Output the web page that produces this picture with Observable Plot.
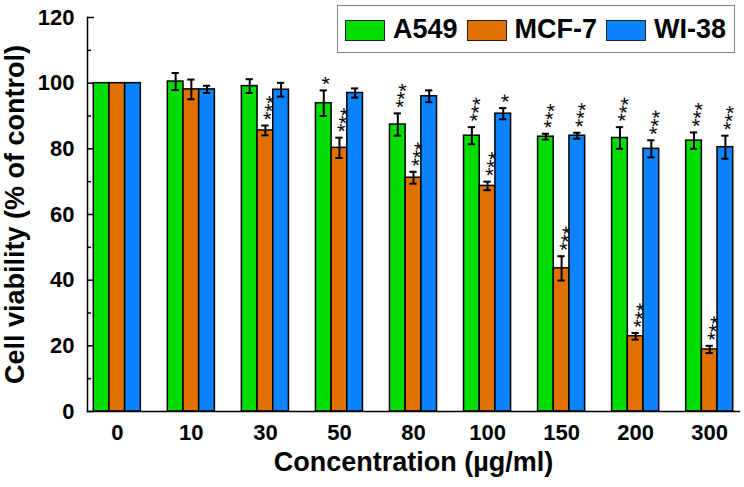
<!DOCTYPE html>
<html>
<head>
<meta charset="utf-8">
<script src="https://cdn.jsdelivr.net/npm/d3@7"></script>
<script src="https://cdn.jsdelivr.net/npm/@observablehq/plot@0.6"></script>
<style>
  body { margin: 0; background: white; font-family: "Liberation Sans", Arial, sans-serif; }
  #wrap { position: relative; width: 744px; height: 487px; }
  #legend { position: absolute; left: 337px; top: 5px; width: 398px; height: 48px; box-sizing: border-box;
    border: 1.5px solid #858585; display: flex; align-items: center; padding-left: 7px; background: white;
    white-space: nowrap; overflow: visible; }
  .sw { flex: 0 0 auto; width: 40px; height: 21px; box-sizing: border-box; border: 1.5px solid #222; margin-right: 8px; margin-top: 3px; }
  .lb { flex: 0 0 auto; font-size: 27px; font-weight: bold; margin-right: 9px; color: #000; line-height: 1; white-space: nowrap; }
</style>
</head>
<body>
<div id="wrap"></div>
<script>
const groups = ["0", "10", "30", "50", "80", "100", "150", "200", "300"];
const series = ["A549", "MCF-7", "WI-38"];
const colors = ["#00dd00", "#e07000", "#0a84ff"];

const a549    = [100, 100.5, 99.1, 93.9, 87.4, 84.0, 83.7, 83.3, 82.5];
const a549Err = [0, 2.6, 2.1, 3.9, 3.4, 2.6, 0.9, 3.3, 2.5];
const mcf7    = [100, 98.1, 85.6, 80.3, 71.2, 68.7, 43.6, 22.9, 18.9];
const mcf7Err = [0, 3.0, 1.5, 3.1, 1.8, 1.3, 3.7, 1.0, 1.1];
const wi38    = [100, 98.1, 98.0, 97.0, 96.0, 90.7, 84.0, 80.0, 80.5];
const wi38Err = [0, 1.1, 2.1, 1.4, 1.8, 1.7, 0.9, 2.6, 3.5];

const a549Sig = ["", "", "", "*", "***", "***", "***", "***", "***"];
const mcf7Sig = ["", "", "***", "***", "***", "***", "***", "***", "***"];
const wi38Sig = ["", "", "", "", "", "*", "***", "***", "***"];

const yMajor = [0, 20, 40, 60, 80, 100, 120];
const yMinor = [10, 30, 50, 70, 90, 110];

const values = [a549, mcf7, wi38];
const errs = [a549Err, mcf7Err, wi38Err];
const sigs = [a549Sig, mcf7Sig, wi38Sig];

const data = groups.flatMap((g, i) => series.map((s, j) => ({
  group: g, series: s, value: values[j][i], err: errs[j][i], sig: sigs[j][i]
})));
const withErr = data.filter(d => d.err > 0);
const withSig = data.filter(d => d.sig);

const font = "bold";
const chart = Plot.plot({
  width: 744,
  height: 487,
  marginLeft: 87,
  marginRight: 5,
  marginTop: 17,
  marginBottom: 76,
  style: { fontFamily: "'Liberation Sans', Arial, sans-serif", background: "white", color: "black", overflow: "visible" },
  fx: { domain: groups, paddingInner: 0.195, paddingOuter: 0, round: false },
  x: { domain: series, paddingInner: 0, paddingOuter: 0.4, axis: null, round: false },
  y: { domain: [0, 120] },
  color: { domain: series, range: colors },
  marks: [
    Plot.barY(data, { fx: "group", x: "series", y: "value", fill: "series", stroke: "black", strokeWidth: 1.5 }),
    Plot.ruleX(withErr, { fx: "group", x: "series", y1: d => d.value - d.err, y2: d => d.value + d.err, stroke: "black", strokeWidth: 2 }),
    Plot.tickY(withErr, { fx: "group", x: "series", y: d => d.value + d.err, stroke: "black", strokeWidth: 2, insetLeft: 4.2, insetRight: 4.2 }),
    Plot.tickY(withErr, { fx: "group", x: "series", y: d => d.value - d.err, stroke: "black", strokeWidth: 2, insetLeft: 4.2, insetRight: 4.2 }),
    Plot.text(withSig, { fx: "group", x: "series", y: d => d.value + d.err, text: "sig", rotate: -80, textAnchor: "start", dx: 5, dy: -5, fontSize: 21, fill: "black" }),
    Plot.frame({ anchor: "left", facet: "super", strokeWidth: 1.5 }),
    Plot.frame({ anchor: "bottom", facet: "super", strokeWidth: 1.5 }),
    Plot.axisY(yMajor, { tickSize: -7, fill: "none", label: null, strokeWidth: 1.5 }),
    Plot.axisY(yMinor, { tickSize: -4, fill: "none", label: null, strokeWidth: 1.5 }),
    Plot.axisY(yMajor, { tickSize: 0, tickPadding: 13, fontSize: 22, fontWeight: font, label: null }),
    Plot.axisY([], { tickSize: 0, label: "Cell viability (% of control)", labelAnchor: "center", labelArrow: "none", labelOffset: 83, fontSize: 27, fontWeight: font }),
    Plot.axisFx({ anchor: "bottom", tickSize: 0, tickPadding: 13, fontSize: 22, fontWeight: font, label: null }),
    Plot.axisFx([], { anchor: "bottom", tickSize: 0, label: "Concentration (µg/ml)", labelAnchor: "center", labelArrow: "none", labelOffset: 59, fontSize: 27, fontWeight: font })
  ]
});

const wrap = document.getElementById("wrap");
wrap.appendChild(chart);

const legend = document.createElement("div");
legend.id = "legend";
series.forEach((s, i) => {
  const sw = document.createElement("div");
  sw.className = "sw";
  sw.style.background = colors[i];
  const lb = document.createElement("span");
  lb.className = "lb";
  lb.textContent = s;
  legend.appendChild(sw);
  legend.appendChild(lb);
});
wrap.appendChild(legend);
</script>
</body>
</html>
